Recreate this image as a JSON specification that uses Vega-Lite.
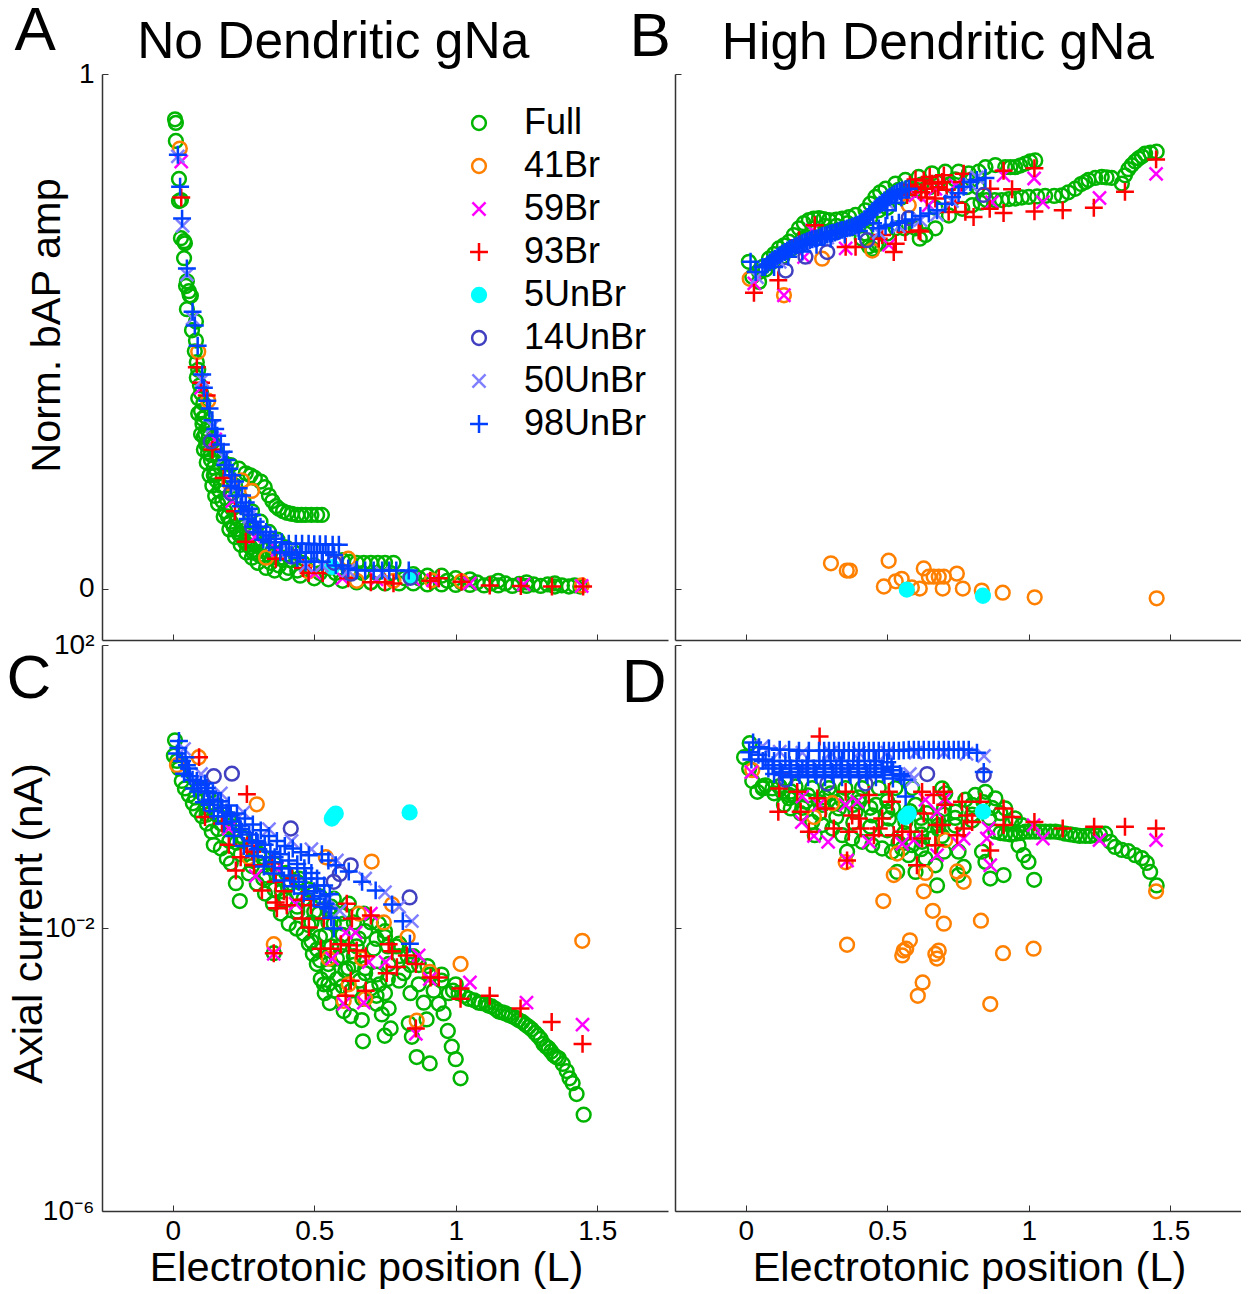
{"$schema":"https://vega.github.io/schema/vega-lite/v6.json","padding":{"left":6,"top":0,"right":0,"bottom":0},"background":"white","bounds":"flush","columns":2,"spacing":{"row":5,"column":7},
"datasets":{
"a":[
{"s":"Full","x":0.008,"y":0.912},{"s":"Full","x":0.011,"y":0.905},{"s":"Full","x":0.011,"y":0.87},{"s":"Full","x":0.022,"y":0.796},{"s":"Full","x":0.022,"y":0.753},{"s":"Full","x":0.029,"y":0.755},{"s":"Full","x":0.029,"y":0.681},{"s":"Full","x":0.04,"y":0.675},{"s":"Full","x":0.043,"y":0.671},{"s":"Full","x":0.04,"y":0.642},{"s":"Full","x":0.05,"y":0.597},{"s":"Full","x":0.047,"y":0.588},{"s":"Full","x":0.057,"y":0.578},{"s":"Full","x":0.06,"y":0.57},{"s":"Full","x":0.064,"y":0.569},{"s":"Full","x":0.05,"y":0.543},{"s":"Full","x":0.082,"y":0.519},{"s":"Full","x":0.068,"y":0.502},{"s":"Full","x":0.082,"y":0.482},{"s":"Full","x":0.078,"y":0.461},{"s":"Full","x":0.085,"y":0.44},{"s":"Full","x":0.09,"y":0.425},{"s":"Full","x":0.085,"y":0.41},{"s":"Full","x":0.096,"y":0.395},{"s":"Full","x":0.1,"y":0.38},{"s":"Full","x":0.09,"y":0.37},{"s":"Full","x":0.108,"y":0.36},{"s":"Full","x":0.1,"y":0.345},{"s":"Full","x":0.115,"y":0.335},{"s":"Full","x":0.105,"y":0.32},{"s":"Full","x":0.12,"y":0.31},{"s":"Full","x":0.11,"y":0.295},{"s":"Full","x":0.128,"y":0.295},{"s":"Full","x":0.118,"y":0.28},{"s":"Full","x":0.14,"y":0.285},{"s":"Full","x":0.125,"y":0.265},{"s":"Full","x":0.15,"y":0.27},{"s":"Full","x":0.135,"y":0.25},{"s":"Full","x":0.16,"y":0.255},{"s":"Full","x":0.145,"y":0.235},{"s":"Full","x":0.18,"y":0.245},{"s":"Full","x":0.205,"y":0.24},{"s":"Full","x":0.234,"y":0.233},{"s":"Full","x":0.258,"y":0.224},{"s":"Full","x":0.275,"y":0.22},{"s":"Full","x":0.29,"y":0.215},{"s":"Full","x":0.311,"y":0.208},{"s":"Full","x":0.325,"y":0.197},{"s":"Full","x":0.34,"y":0.181},{"s":"Full","x":0.352,"y":0.17},{"s":"Full","x":0.365,"y":0.16},{"s":"Full","x":0.375,"y":0.155},{"s":"Full","x":0.39,"y":0.15},{"s":"Full","x":0.405,"y":0.147},{"s":"Full","x":0.421,"y":0.145},{"s":"Full","x":0.44,"y":0.143},{"s":"Full","x":0.455,"y":0.143},{"s":"Full","x":0.47,"y":0.143},{"s":"Full","x":0.49,"y":0.143},{"s":"Full","x":0.51,"y":0.143},{"s":"Full","x":0.527,"y":0.143},
{"s":"Full","x":0.09,"y":0.34},{"s":"Full","x":0.1,"y":0.3},{"s":"Full","x":0.11,"y":0.27},{"s":"Full","x":0.12,"y":0.245},{"s":"Full","x":0.13,"y":0.22},{"s":"Full","x":0.14,"y":0.2},{"s":"Full","x":0.15,"y":0.18},{"s":"Full","x":0.16,"y":0.165},{"s":"Full","x":0.18,"y":0.14},{"s":"Full","x":0.2,"y":0.115},{"s":"Full","x":0.22,"y":0.1},{"s":"Full","x":0.24,"y":0.085},{"s":"Full","x":0.26,"y":0.07},{"s":"Full","x":0.28,"y":0.06},{"s":"Full","x":0.3,"y":0.05},{"s":"Full","x":0.33,"y":0.04},{"s":"Full","x":0.36,"y":0.035},{"s":"Full","x":0.4,"y":0.03},{"s":"Full","x":0.45,"y":0.025},{"s":"Full","x":0.5,"y":0.02},{"s":"Full","x":0.55,"y":0.018},{"s":"Full","x":0.6,"y":0.015},{"s":"Full","x":0.65,"y":0.012},{"s":"Full","x":0.7,"y":0.012},{"s":"Full","x":0.75,"y":0.01},{"s":"Full","x":0.8,"y":0.01},{"s":"Full","x":0.85,"y":0.01},{"s":"Full","x":0.9,"y":0.008},{"s":"Full","x":0.95,"y":0.008},{"s":"Full","x":1,"y":0.007},{"s":"Full","x":1.05,"y":0.007},{"s":"Full","x":1.1,"y":0.006},{"s":"Full","x":1.15,"y":0.006},{"s":"Full","x":1.2,"y":0.005},{"s":"Full","x":1.25,"y":0.005},{"s":"Full","x":1.3,"y":0.005},{"s":"Full","x":1.35,"y":0.004},{"s":"Full","x":1.4,"y":0.004},{"s":"Full","x":1.44,"y":0.004},
{"s":"Full","x":0.15,"y":0.22},{"s":"Full","x":0.17,"y":0.2},{"s":"Full","x":0.19,"y":0.175},{"s":"Full","x":0.21,"y":0.155},{"s":"Full","x":0.23,"y":0.135},{"s":"Full","x":0.25,"y":0.12},{"s":"Full","x":0.27,"y":0.105},{"s":"Full","x":0.29,"y":0.095},{"s":"Full","x":0.31,"y":0.085},{"s":"Full","x":0.33,"y":0.075},{"s":"Full","x":0.36,"y":0.065},{"s":"Full","x":0.39,"y":0.06},{"s":"Full","x":0.42,"y":0.055},{"s":"Full","x":0.46,"y":0.05},{"s":"Full","x":0.5,"y":0.045},{"s":"Full","x":0.55,"y":0.04},{"s":"Full","x":0.6,"y":0.055},{"s":"Full","x":0.65,"y":0.05},{"s":"Full","x":0.7,"y":0.05},{"s":"Full","x":0.75,"y":0.05},{"s":"Full","x":0.78,"y":0.05},{"s":"Full","x":0.85,"y":0.028},{"s":"Full","x":0.9,"y":0.025},{"s":"Full","x":0.95,"y":0.025},{"s":"Full","x":1,"y":0.02},{"s":"Full","x":1.05,"y":0.018},{"s":"Full","x":1.15,"y":0.015},{"s":"Full","x":1.25,"y":0.012},{"s":"Full","x":1.35,"y":0.01},
{"s":"Full","x":0.105,"y":0.33},{"s":"Full","x":0.115,"y":0.3},{"s":"Full","x":0.125,"y":0.28},{"s":"Full","x":0.135,"y":0.26},{"s":"Full","x":0.145,"y":0.22},{"s":"Full","x":0.155,"y":0.21},{"s":"Full","x":0.165,"y":0.19},{"s":"Full","x":0.175,"y":0.17},{"s":"Full","x":0.185,"y":0.15},{"s":"Full","x":0.195,"y":0.14},{"s":"Full","x":0.205,"y":0.13},{"s":"Full","x":0.215,"y":0.12},{"s":"Full","x":0.225,"y":0.115},{"s":"Full","x":0.235,"y":0.105},{"s":"Full","x":0.245,"y":0.1},{"s":"Full","x":0.255,"y":0.09},{"s":"Full","x":0.265,"y":0.085},{"s":"Full","x":0.275,"y":0.08},{"s":"Full","x":0.285,"y":0.07},{"s":"Full","x":0.295,"y":0.07},{"s":"Full","x":0.305,"y":0.065},{"s":"Full","x":0.32,"y":0.06},{"s":"Full","x":0.345,"y":0.05},{"s":"Full","x":0.375,"y":0.045},{"s":"Full","x":0.41,"y":0.04},{"s":"Full","x":0.44,"y":0.035},{"s":"Full","x":0.48,"y":0.035},{"s":"Full","x":0.52,"y":0.03},{"s":"Full","x":0.575,"y":0.03},{"s":"Full","x":0.625,"y":0.03},{"s":"Full","x":0.67,"y":0.03},{"s":"Full","x":0.72,"y":0.03},{"s":"Full","x":0.77,"y":0.03},{"s":"Full","x":0.82,"y":0.02},{"s":"Full","x":0.87,"y":0.02},{"s":"Full","x":0.92,"y":0.015},{"s":"Full","x":0.97,"y":0.015},{"s":"Full","x":1.02,"y":0.012},{"s":"Full","x":1.075,"y":0.012},{"s":"Full","x":1.125,"y":0.01},{"s":"Full","x":1.175,"y":0.01},{"s":"Full","x":1.225,"y":0.009},{"s":"Full","x":1.275,"y":0.008},{"s":"Full","x":1.325,"y":0.008},{"s":"Full","x":1.375,"y":0.006},{"s":"Full","x":1.42,"y":0.006},{"s":"Full","x":0.19,"y":0.22},{"s":"Full","x":0.22,"y":0.2},{"s":"Full","x":0.25,"y":0.17},{"s":"Full","x":0.28,"y":0.15},{"s":"Full","x":0.31,"y":0.13},{"s":"Full","x":0.34,"y":0.11},{"s":"Full","x":0.37,"y":0.095},{"s":"Full","x":0.4,"y":0.08},{"s":"Full","x":0.43,"y":0.07},{"s":"Full","x":0.625,"y":0.052},{"s":"Full","x":0.675,"y":0.05},{"s":"Full","x":0.725,"y":0.05},
{"s":"41Br","x":0.025,"y":0.855},{"s":"41Br","x":0.09,"y":0.46},{"s":"41Br","x":0.125,"y":0.365},{"s":"41Br","x":0.2,"y":0.205},{"s":"41Br","x":0.245,"y":0.21},{"s":"41Br","x":0.28,"y":0.19},{"s":"41Br","x":0.33,"y":0.06},{"s":"41Br","x":0.48,"y":0.033},{"s":"41Br","x":0.62,"y":0.058},{"s":"41Br","x":0.65,"y":0.015},{"s":"41Br","x":0.78,"y":0.015},{"s":"41Br","x":0.915,"y":0.016},{"s":"41Br","x":1.02,"y":0.014},{"s":"41Br","x":1.445,"y":0.006},
{"s":"59Br","x":0.03,"y":0.83},{"s":"59Br","x":0.1,"y":0.39},{"s":"59Br","x":0.15,"y":0.29},{"s":"59Br","x":0.21,"y":0.17},{"s":"59Br","x":0.29,"y":0.1},{"s":"59Br","x":0.37,"y":0.075},{"s":"59Br","x":0.5,"y":0.03},{"s":"59Br","x":0.6,"y":0.02},{"s":"59Br","x":0.72,"y":0.018},{"s":"59Br","x":0.85,"y":0.018},{"s":"59Br","x":0.92,"y":0.016},{"s":"59Br","x":1.05,"y":0.01},{"s":"59Br","x":1.24,"y":0.008},{"s":"59Br","x":1.445,"y":0.005},
{"s":"93Br","x":0.03,"y":0.76},{"s":"93Br","x":0.085,"y":0.43},{"s":"93Br","x":0.1,"y":0.4},{"s":"93Br","x":0.12,"y":0.375},{"s":"93Br","x":0.14,"y":0.27},{"s":"93Br","x":0.18,"y":0.215},{"s":"93Br","x":0.22,"y":0.15},{"s":"93Br","x":0.258,"y":0.091},{"s":"93Br","x":0.364,"y":0.058},{"s":"93Br","x":0.46,"y":0.04},{"s":"93Br","x":0.48,"y":0.03},{"s":"93Br","x":0.53,"y":0.03},{"s":"93Br","x":0.62,"y":0.02},{"s":"93Br","x":0.7,"y":0.012},{"s":"93Br","x":0.75,"y":0.012},{"s":"93Br","x":0.78,"y":0.01},{"s":"93Br","x":0.91,"y":0.015},{"s":"93Br","x":0.94,"y":0.02},{"s":"93Br","x":1.02,"y":0.013},{"s":"93Br","x":1.12,"y":0.006},{"s":"93Br","x":1.23,"y":0.005},{"s":"93Br","x":1.34,"y":0.004},{"s":"93Br","x":1.45,"y":0.004},
{"s":"5UnBr","x":0.563,"y":0.042},{"s":"5UnBr","x":0.84,"y":0.023},
{"s":"14UnBr","x":0.134,"y":0.286},{"s":"14UnBr","x":0.205,"y":0.185},{"s":"14UnBr","x":0.28,"y":0.12},{"s":"14UnBr","x":0.42,"y":0.062},{"s":"14UnBr","x":0.57,"y":0.05},{"s":"14UnBr","x":0.63,"y":0.029},{"s":"14UnBr","x":0.84,"y":0.021},
{"s":"50UnBr","x":0.018,"y":0.84},{"s":"50UnBr","x":0.035,"y":0.705},{"s":"50UnBr","x":0.05,"y":0.61},{"s":"50UnBr","x":0.07,"y":0.525},{"s":"50UnBr","x":0.104,"y":0.405},{"s":"50UnBr","x":0.14,"y":0.315},{"s":"50UnBr","x":0.18,"y":0.255},{"s":"50UnBr","x":0.22,"y":0.195},{"s":"50UnBr","x":0.27,"y":0.14},{"s":"50UnBr","x":0.33,"y":0.1},{"s":"50UnBr","x":0.41,"y":0.075},{"s":"50UnBr","x":0.47,"y":0.045},{"s":"50UnBr","x":0.527,"y":0.045},{"s":"50UnBr","x":0.62,"y":0.035},{"s":"50UnBr","x":0.74,"y":0.03},
{"s":"98UnBr","x":0.018,"y":0.843},{"s":"98UnBr","x":0.026,"y":0.781},{"s":"98UnBr","x":0.033,"y":0.719},{"s":"98UnBr","x":0.05,"y":0.622},{"s":"98UnBr","x":0.07,"y":0.538},{"s":"98UnBr","x":0.078,"y":0.511},{"s":"98UnBr","x":0.088,"y":0.472},{"s":"98UnBr","x":0.104,"y":0.416},{"s":"98UnBr","x":0.122,"y":0.365},{"s":"98UnBr","x":0.13,"y":0.35},{"s":"98UnBr","x":0.14,"y":0.327},{"s":"98UnBr","x":0.157,"y":0.297},{"s":"98UnBr","x":0.17,"y":0.28},{"s":"98UnBr","x":0.18,"y":0.266},{"s":"98UnBr","x":0.19,"y":0.25},{"s":"98UnBr","x":0.2,"y":0.233},{"s":"98UnBr","x":0.21,"y":0.22},{"s":"98UnBr","x":0.22,"y":0.208},{"s":"98UnBr","x":0.233,"y":0.195},{"s":"98UnBr","x":0.245,"y":0.181},{"s":"98UnBr","x":0.258,"y":0.167},{"s":"98UnBr","x":0.27,"y":0.155},{"s":"98UnBr","x":0.28,"y":0.143},{"s":"98UnBr","x":0.293,"y":0.13},{"s":"98UnBr","x":0.31,"y":0.12},{"s":"98UnBr","x":0.33,"y":0.11},{"s":"98UnBr","x":0.345,"y":0.103},{"s":"98UnBr","x":0.364,"y":0.097},{"s":"98UnBr","x":0.385,"y":0.09},{"s":"98UnBr","x":0.41,"y":0.087},{"s":"98UnBr","x":0.435,"y":0.087},{"s":"98UnBr","x":0.457,"y":0.087},{"s":"98UnBr","x":0.48,"y":0.087},{"s":"98UnBr","x":0.5,"y":0.086},{"s":"98UnBr","x":0.52,"y":0.086},{"s":"98UnBr","x":0.54,"y":0.086},{"s":"98UnBr","x":0.565,"y":0.085},{"s":"98UnBr","x":0.587,"y":0.085},{"s":"98UnBr","x":0.44,"y":0.06},{"s":"98UnBr","x":0.47,"y":0.052},{"s":"98UnBr","x":0.5,"y":0.052},{"s":"98UnBr","x":0.527,"y":0.052},{"s":"98UnBr","x":0.576,"y":0.045},{"s":"98UnBr","x":0.62,"y":0.039},{"s":"98UnBr","x":0.65,"y":0.036},{"s":"98UnBr","x":0.68,"y":0.035},{"s":"98UnBr","x":0.71,"y":0.035},{"s":"98UnBr","x":0.74,"y":0.035},{"s":"98UnBr","x":0.765,"y":0.035},{"s":"98UnBr","x":0.79,"y":0.035},{"s":"98UnBr","x":0.834,"y":0.035},
{"s":"98UnBr","x":0.11,"y":0.39},{"s":"98UnBr","x":0.15,"y":0.31},{"s":"98UnBr","x":0.185,"y":0.24},{"s":"98UnBr","x":0.205,"y":0.2},{"s":"98UnBr","x":0.225,"y":0.18},{"s":"98UnBr","x":0.24,"y":0.16},{"s":"98UnBr","x":0.25,"y":0.15},{"s":"98UnBr","x":0.265,"y":0.135},{"s":"98UnBr","x":0.285,"y":0.12},{"s":"98UnBr","x":0.3,"y":0.11},{"s":"98UnBr","x":0.32,"y":0.095},{"s":"98UnBr","x":0.34,"y":0.09},{"s":"98UnBr","x":0.36,"y":0.08},{"s":"98UnBr","x":0.38,"y":0.07},{"s":"98UnBr","x":0.4,"y":0.07},{"s":"98UnBr","x":0.42,"y":0.065},{"s":"98UnBr","x":0.45,"y":0.07},{"s":"98UnBr","x":0.47,"y":0.07},{"s":"98UnBr","x":0.49,"y":0.07},{"s":"98UnBr","x":0.51,"y":0.07},{"s":"98UnBr","x":0.53,"y":0.07},{"s":"98UnBr","x":0.55,"y":0.07},{"s":"98UnBr","x":0.57,"y":0.065},{"s":"98UnBr","x":0.6,"y":0.045}
],
"b":[
{"s":"Full","x":0.011,"y":0.635},{"s":"Full","x":0.023,"y":0.606},{"s":"Full","x":0.047,"y":0.596},{"s":"Full","x":0.06,"y":0.625},{"s":"Full","x":0.082,"y":0.641},{"s":"Full","x":0.1,"y":0.65},{"s":"Full","x":0.117,"y":0.661},{"s":"Full","x":0.135,"y":0.667},{"s":"Full","x":0.153,"y":0.674},{"s":"Full","x":0.17,"y":0.687},{"s":"Full","x":0.188,"y":0.7},{"s":"Full","x":0.205,"y":0.71},{"s":"Full","x":0.223,"y":0.716},{"s":"Full","x":0.24,"y":0.719},{"s":"Full","x":0.259,"y":0.72},{"s":"Full","x":0.275,"y":0.718},{"s":"Full","x":0.294,"y":0.716},{"s":"Full","x":0.32,"y":0.717},{"s":"Full","x":0.341,"y":0.719},{"s":"Full","x":0.365,"y":0.722},{"s":"Full","x":0.388,"y":0.726},{"s":"Full","x":0.423,"y":0.735},{"s":"Full","x":0.44,"y":0.748},{"s":"Full","x":0.458,"y":0.761},{"s":"Full","x":0.475,"y":0.77},{"s":"Full","x":0.494,"y":0.777},{"s":"Full","x":0.529,"y":0.787},{"s":"Full","x":0.564,"y":0.794},{"s":"Full","x":0.611,"y":0.8},{"s":"Full","x":0.658,"y":0.807},{"s":"Full","x":0.705,"y":0.81},{"s":"Full","x":0.752,"y":0.81},{"s":"Full","x":0.788,"y":0.807},{"s":"Full","x":0.823,"y":0.81},{"s":"Full","x":0.847,"y":0.819},{"s":"Full","x":0.882,"y":0.823},{"s":"Full","x":0.917,"y":0.819},{"s":"Full","x":0.935,"y":0.819},{"s":"Full","x":0.952,"y":0.819},{"s":"Full","x":0.97,"y":0.822},{"s":"Full","x":0.988,"y":0.826},{"s":"Full","x":1.005,"y":0.83},{"s":"Full","x":1.023,"y":0.832},
{"s":"Full","x":0.85,"y":0.755},{"s":"Full","x":0.88,"y":0.755},{"s":"Full","x":0.905,"y":0.755},{"s":"Full","x":0.93,"y":0.757},{"s":"Full","x":0.952,"y":0.758},{"s":"Full","x":0.975,"y":0.76},{"s":"Full","x":1,"y":0.761},{"s":"Full","x":1.03,"y":0.762},{"s":"Full","x":1.058,"y":0.763},{"s":"Full","x":1.09,"y":0.763},{"s":"Full","x":1.117,"y":0.764},{"s":"Full","x":1.14,"y":0.77},{"s":"Full","x":1.164,"y":0.777},{"s":"Full","x":1.185,"y":0.786},{"s":"Full","x":1.2,"y":0.79},{"s":"Full","x":1.211,"y":0.794},{"s":"Full","x":1.235,"y":0.798},{"s":"Full","x":1.258,"y":0.8},{"s":"Full","x":1.275,"y":0.799},{"s":"Full","x":1.293,"y":0.798},{"s":"Full","x":1.329,"y":0.787},{"s":"Full","x":1.34,"y":0.803},{"s":"Full","x":1.352,"y":0.815},{"s":"Full","x":1.364,"y":0.823},{"s":"Full","x":1.376,"y":0.83},{"s":"Full","x":1.388,"y":0.836},{"s":"Full","x":1.4,"y":0.84},{"s":"Full","x":1.411,"y":0.845},{"s":"Full","x":1.43,"y":0.847},{"s":"Full","x":1.452,"y":0.849},
{"s":"Full","x":0.047,"y":0.615},{"s":"Full","x":0.094,"y":0.635},{"s":"Full","x":0.14,"y":0.654},{"s":"Full","x":0.188,"y":0.667},{"s":"Full","x":0.235,"y":0.683},{"s":"Full","x":0.282,"y":0.693},{"s":"Full","x":0.329,"y":0.696},{"s":"Full","x":0.376,"y":0.7},{"s":"Full","x":0.423,"y":0.69},{"s":"Full","x":0.447,"y":0.66},{"s":"Full","x":0.47,"y":0.67},{"s":"Full","x":0.5,"y":0.69},{"s":"Full","x":0.53,"y":0.7},{"s":"Full","x":0.56,"y":0.7},{"s":"Full","x":0.6,"y":0.7},{"s":"Full","x":0.615,"y":0.68},{"s":"Full","x":0.635,"y":0.687},{"s":"Full","x":0.67,"y":0.7},{"s":"Full","x":0.67,"y":0.74},{"s":"Full","x":0.718,"y":0.725},{"s":"Full","x":0.765,"y":0.738},{"s":"Full","x":0.8,"y":0.745},{"s":"Full","x":0.83,"y":0.75},{"s":"Full","x":0.5,"y":0.74},{"s":"Full","x":0.55,"y":0.76},{"s":"Full","x":0.6,"y":0.775},{"s":"Full","x":0.65,"y":0.78},{"s":"Full","x":0.72,"y":0.785},{"s":"Full","x":0.78,"y":0.78},
{"s":"Full","x":0.07,"y":0.62},{"s":"Full","x":0.13,"y":0.645},{"s":"Full","x":0.16,"y":0.66},{"s":"Full","x":0.2,"y":0.68},{"s":"Full","x":0.24,"y":0.7},{"s":"Full","x":0.28,"y":0.705},{"s":"Full","x":0.32,"y":0.705},{"s":"Full","x":0.36,"y":0.71},{"s":"Full","x":0.4,"y":0.705},{"s":"Full","x":0.44,"y":0.72},{"s":"Full","x":0.47,"y":0.735},{"s":"Full","x":0.51,"y":0.76},{"s":"Full","x":0.54,"y":0.775},{"s":"Full","x":0.58,"y":0.78},{"s":"Full","x":0.62,"y":0.785},{"s":"Full","x":0.68,"y":0.79},{"s":"Full","x":0.74,"y":0.795},{"s":"Full","x":0.8,"y":0.795},{"s":"Full","x":0.82,"y":0.78},{"s":"Full","x":0.41,"y":0.68},{"s":"Full","x":0.435,"y":0.665},{"s":"Full","x":0.46,"y":0.668},
{"s":"41Br","x":0.014,"y":0.602},{"s":"41Br","x":0.135,"y":0.57},{"s":"41Br","x":0.27,"y":0.641},{"s":"41Br","x":0.447,"y":0.657},{"s":"41Br","x":0.576,"y":0.745},{"s":"41Br","x":0.301,"y":0.049},{"s":"41Br","x":0.357,"y":0.035},{"s":"41Br","x":0.368,"y":0.035},{"s":"41Br","x":0.505,"y":0.054},{"s":"41Br","x":0.488,"y":0.004},{"s":"41Br","x":0.53,"y":0.014},{"s":"41Br","x":0.551,"y":0.019},{"s":"41Br","x":0.587,"y":0.002},{"s":"41Br","x":0.615,"y":0},{"s":"41Br","x":0.629,"y":0.039},{"s":"41Br","x":0.647,"y":0.023},{"s":"41Br","x":0.664,"y":0.023},{"s":"41Br","x":0.682,"y":0.023},{"s":"41Br","x":0.7,"y":0.023},{"s":"41Br","x":0.746,"y":0.029},{"s":"41Br","x":0.696,"y":0},{"s":"41Br","x":0.767,"y":0},{"s":"41Br","x":0.834,"y":-0.004},{"s":"41Br","x":0.908,"y":-0.008},{"s":"41Br","x":1.021,"y":-0.017},{"s":"41Br","x":1.452,"y":-0.019},
{"s":"59Br","x":0.03,"y":0.593},{"s":"59Br","x":0.135,"y":0.57},{"s":"59Br","x":0.206,"y":0.644},{"s":"59Br","x":0.235,"y":0.696},{"s":"59Br","x":0.353,"y":0.661},{"s":"59Br","x":0.506,"y":0.668},{"s":"59Br","x":0.6,"y":0.764},{"s":"59Br","x":0.647,"y":0.745},{"s":"59Br","x":0.67,"y":0.777},{"s":"59Br","x":0.741,"y":0.784},{"s":"59Br","x":0.87,"y":0.751},{"s":"59Br","x":0.911,"y":0.803},{"s":"59Br","x":1.019,"y":0.797},{"s":"59Br","x":1.05,"y":0.751},{"s":"59Br","x":1.25,"y":0.759},{"s":"59Br","x":1.45,"y":0.806},
{"s":"93Br","x":0.029,"y":0.575},{"s":"93Br","x":0.115,"y":0.599},{"s":"93Br","x":0.188,"y":0.677},{"s":"93Br","x":0.244,"y":0.706},{"s":"93Br","x":0.353,"y":0.664},{"s":"93Br","x":0.388,"y":0.664},{"s":"93Br","x":0.482,"y":0.687},{"s":"93Br","x":0.523,"y":0.654},{"s":"93Br","x":0.564,"y":0.693},{"s":"93Br","x":0.611,"y":0.696},{"s":"93Br","x":0.617,"y":0.694},{"s":"93Br","x":0.717,"y":0.732},{"s":"93Br","x":0.776,"y":0.732},{"s":"93Br","x":0.805,"y":0.722},{"s":"93Br","x":0.862,"y":0.738},{"s":"93Br","x":0.911,"y":0.73},{"s":"93Br","x":1.02,"y":0.733},{"s":"93Br","x":1.12,"y":0.735},{"s":"93Br","x":1.23,"y":0.74},{"s":"93Br","x":1.34,"y":0.771},{"s":"93Br","x":1.45,"y":0.834},{"s":"93Br","x":0.941,"y":0.776},{"s":"93Br","x":0.911,"y":0.812},{"s":"93Br","x":1.02,"y":0.817},{"s":"93Br","x":0.864,"y":0.777},{"s":"93Br","x":0.77,"y":0.806},{"s":"93Br","x":0.7,"y":0.803},{"s":"93Br","x":0.629,"y":0.793},{"s":"93Br","x":0.635,"y":0.777},{"s":"93Br","x":0.67,"y":0.758},{"s":"93Br","x":0.694,"y":0.79},{"s":"93Br","x":0.659,"y":0.787},{"s":"93Br","x":0.6,"y":0.78},{"s":"93Br","x":0.764,"y":0.79},{"s":"93Br","x":0.58,"y":0.785},{"s":"93Br","x":0.6,"y":0.795},{"s":"93Br","x":0.62,"y":0.77},{"s":"93Br","x":0.65,"y":0.8},{"s":"93Br","x":0.68,"y":0.78},{"s":"93Br","x":0.71,"y":0.775},{"s":"93Br","x":0.55,"y":0.77},{"s":"93Br","x":0.57,"y":0.765},{"s":"93Br","x":0.64,"y":0.76},{"s":"93Br","x":0.74,"y":0.75},{"s":"93Br","x":0.47,"y":0.68},{"s":"93Br","x":0.53,"y":0.67},
{"s":"5UnBr","x":0.569,"y":-0.002},{"s":"5UnBr","x":0.838,"y":-0.014},
{"s":"14UnBr","x":0.141,"y":0.618},{"s":"14UnBr","x":0.211,"y":0.645},{"s":"14UnBr","x":0.288,"y":0.654},{"s":"14UnBr","x":0.429,"y":0.677},{"s":"14UnBr","x":0.576,"y":0.72},{"s":"14UnBr","x":0.84,"y":0.765},
{"s":"50UnBr","x":0.04,"y":0.605},{"s":"50UnBr","x":0.12,"y":0.635},{"s":"50UnBr","x":0.2,"y":0.665},{"s":"50UnBr","x":0.288,"y":0.682},{"s":"50UnBr","x":0.376,"y":0.697},{"s":"50UnBr","x":0.44,"y":0.72},{"s":"50UnBr","x":0.5,"y":0.75},{"s":"50UnBr","x":0.47,"y":0.692},{"s":"50UnBr","x":0.541,"y":0.704},{"s":"50UnBr","x":0.617,"y":0.716},{"s":"50UnBr","x":0.676,"y":0.727},{"s":"50UnBr","x":0.729,"y":0.753},{"s":"50UnBr","x":0.794,"y":0.785},{"s":"50UnBr","x":0.817,"y":0.799},
{"s":"98UnBr","x":0.017,"y":0.635},{"s":"98UnBr","x":0.035,"y":0.615},{"s":"98UnBr","x":0.059,"y":0.625},{"s":"98UnBr","x":0.076,"y":0.63},{"s":"98UnBr","x":0.094,"y":0.638},{"s":"98UnBr","x":0.112,"y":0.645},{"s":"98UnBr","x":0.129,"y":0.651},{"s":"98UnBr","x":0.147,"y":0.657},{"s":"98UnBr","x":0.164,"y":0.662},{"s":"98UnBr","x":0.182,"y":0.667},{"s":"98UnBr","x":0.2,"y":0.671},{"s":"98UnBr","x":0.217,"y":0.675},{"s":"98UnBr","x":0.235,"y":0.679},{"s":"98UnBr","x":0.253,"y":0.681},{"s":"98UnBr","x":0.27,"y":0.685},{"s":"98UnBr","x":0.288,"y":0.688},{"s":"98UnBr","x":0.306,"y":0.691},{"s":"98UnBr","x":0.323,"y":0.694},{"s":"98UnBr","x":0.341,"y":0.697},{"s":"98UnBr","x":0.358,"y":0.7},{"s":"98UnBr","x":0.376,"y":0.703},{"s":"98UnBr","x":0.394,"y":0.707},{"s":"98UnBr","x":0.411,"y":0.713},{"s":"98UnBr","x":0.429,"y":0.722},{"s":"98UnBr","x":0.447,"y":0.733},{"s":"98UnBr","x":0.464,"y":0.742},{"s":"98UnBr","x":0.482,"y":0.75},{"s":"98UnBr","x":0.5,"y":0.758},{"s":"98UnBr","x":0.517,"y":0.764},{"s":"98UnBr","x":0.535,"y":0.77},{"s":"98UnBr","x":0.553,"y":0.774},{"s":"98UnBr","x":0.576,"y":0.777},{"s":"98UnBr","x":0.47,"y":0.7},{"s":"98UnBr","x":0.494,"y":0.705},{"s":"98UnBr","x":0.517,"y":0.707},{"s":"98UnBr","x":0.541,"y":0.711},{"s":"98UnBr","x":0.564,"y":0.714},{"s":"98UnBr","x":0.588,"y":0.717},{"s":"98UnBr","x":0.617,"y":0.724},{"s":"98UnBr","x":0.647,"y":0.729},{"s":"98UnBr","x":0.676,"y":0.735},{"s":"98UnBr","x":0.705,"y":0.748},{"s":"98UnBr","x":0.729,"y":0.761},{"s":"98UnBr","x":0.752,"y":0.768},{"s":"98UnBr","x":0.77,"y":0.781},{"s":"98UnBr","x":0.794,"y":0.79},{"s":"98UnBr","x":0.817,"y":0.794},{"s":"98UnBr","x":0.847,"y":0.798},
{"s":"98UnBr","x":0.068,"y":0.625},{"s":"98UnBr","x":0.085,"y":0.634},{"s":"98UnBr","x":0.103,"y":0.641},{"s":"98UnBr","x":0.12,"y":0.648},{"s":"98UnBr","x":0.138,"y":0.654},{"s":"98UnBr","x":0.155,"y":0.66},{"s":"98UnBr","x":0.173,"y":0.665},{"s":"98UnBr","x":0.19,"y":0.669},{"s":"98UnBr","x":0.208,"y":0.673},{"s":"98UnBr","x":0.226,"y":0.677},{"s":"98UnBr","x":0.244,"y":0.68},{"s":"98UnBr","x":0.262,"y":0.683},{"s":"98UnBr","x":0.279,"y":0.686},{"s":"98UnBr","x":0.297,"y":0.69},{"s":"98UnBr","x":0.315,"y":0.692},{"s":"98UnBr","x":0.332,"y":0.696},{"s":"98UnBr","x":0.35,"y":0.698},{"s":"98UnBr","x":0.367,"y":0.701},{"s":"98UnBr","x":0.385,"y":0.705},{"s":"98UnBr","x":0.403,"y":0.71},{"s":"98UnBr","x":0.42,"y":0.717},{"s":"98UnBr","x":0.438,"y":0.727},{"s":"98UnBr","x":0.456,"y":0.737},{"s":"98UnBr","x":0.473,"y":0.746},{"s":"98UnBr","x":0.49,"y":0.754},{"s":"98UnBr","x":0.508,"y":0.761},{"s":"98UnBr","x":0.526,"y":0.767},{"s":"98UnBr","x":0.544,"y":0.772},{"s":"98UnBr","x":0.565,"y":0.776},{"s":"98UnBr","x":0.1,"y":0.625},{"s":"98UnBr","x":0.15,"y":0.645},{"s":"98UnBr","x":0.2,"y":0.655},{"s":"98UnBr","x":0.25,"y":0.668},{"s":"98UnBr","x":0.3,"y":0.68},{"s":"98UnBr","x":0.35,"y":0.688},{"s":"98UnBr","x":0.4,"y":0.695},{"s":"98UnBr","x":0.45,"y":0.71},{"s":"98UnBr","x":0.5,"y":0.735},{"s":"98UnBr","x":0.53,"y":0.75},{"s":"98UnBr","x":0.55,"y":0.76}
],
"c":[
{"s":"Full","x":0.008,"y":4.5},{"s":"Full","x":0.004,"y":2.73},{"s":"Full","x":0.015,"y":2.3},{"s":"Full","x":0.022,"y":1.79},{"s":"Full","x":0.032,"y":1.2},{"s":"Full","x":0.043,"y":0.94},{"s":"Full","x":0.057,"y":0.76},{"s":"Full","x":0.071,"y":0.58},{"s":"Full","x":0.085,"y":0.46},{"s":"Full","x":0.103,"y":0.38},{"s":"Full","x":0.121,"y":0.3},{"s":"Full","x":0.138,"y":0.23},{"s":"Full","x":0.128,"y":0.68},{"s":"Full","x":0.145,"y":0.15},{"s":"Full","x":0.17,"y":0.133},{"s":"Full","x":0.191,"y":0.096},{"s":"Full","x":0.205,"y":0.082},{"s":"Full","x":0.223,"y":0.043},{"s":"Full","x":0.237,"y":0.024},{"s":"Full","x":0.269,"y":0.059},{"s":"Full","x":0.297,"y":0.0425},{"s":"Full","x":0.326,"y":0.0307},{"s":"Full","x":0.354,"y":0.0221},{"s":"Full","x":0.382,"y":0.016},{"s":"Full","x":0.41,"y":0.0115},{"s":"Full","x":0.438,"y":0.0098},{"s":"Full","x":0.463,"y":0.0083},{"s":"Full","x":0.481,"y":0.006},{"s":"Full","x":0.495,"y":0.0043},{"s":"Full","x":0.509,"y":0.0031},{"s":"Full","x":0.523,"y":0.0019},{"s":"Full","x":0.55,"y":0.0016},{"s":"Full","x":0.537,"y":0.0012},
{"s":"Full","x":0.093,"y":0.94},{"s":"Full","x":0.145,"y":0.58},{"s":"Full","x":0.198,"y":0.353},{"s":"Full","x":0.251,"y":0.184},{"s":"Full","x":0.304,"y":0.113},{"s":"Full","x":0.357,"y":0.069},{"s":"Full","x":0.41,"y":0.0425},{"s":"Full","x":0.463,"y":0.026},{"s":"Full","x":0.516,"y":0.016},{"s":"Full","x":0.569,"y":0.0115},{"s":"Full","x":0.17,"y":0.3},{"s":"Full","x":0.225,"y":0.16},{"s":"Full","x":0.28,"y":0.09},{"s":"Full","x":0.33,"y":0.055},{"s":"Full","x":0.385,"y":0.033},{"s":"Full","x":0.44,"y":0.02},{"s":"Full","x":0.49,"y":0.012},{"s":"Full","x":0.54,"y":0.008},{"s":"Full","x":0.59,"y":0.0055},{"s":"Full","x":0.64,"y":0.004},
{"s":"Full","x":0.569,"y":0.026},{"s":"Full","x":0.622,"y":0.0221},{"s":"Full","x":0.675,"y":0.016},{"s":"Full","x":0.728,"y":0.0115},{"s":"Full","x":0.446,"y":0.05},{"s":"Full","x":0.498,"y":0.0307},{"s":"Full","x":0.551,"y":0.017},{"s":"Full","x":0.604,"y":0.0115},{"s":"Full","x":0.657,"y":0.0071},{"s":"Full","x":0.71,"y":0.0051},{"s":"Full","x":0.763,"y":0.0031},{"s":"Full","x":0.816,"y":0.0023},{"s":"Full","x":0.869,"y":0.0016},{"s":"Full","x":0.922,"y":0.0013},{"s":"Full","x":0.975,"y":0.0012},{"s":"Full","x":1.01,"y":0.0012},{"s":"Full","x":1.046,"y":0.001},{"s":"Full","x":1.081,"y":0.00088},{"s":"Full","x":1.106,"y":0.00085},{"s":"Full","x":1.127,"y":0.00078},{"s":"Full","x":1.152,"y":0.00066},{"s":"Full","x":1.176,"y":0.00062},{"s":"Full","x":1.198,"y":0.00057},{"s":"Full","x":1.222,"y":0.0005},{"s":"Full","x":1.247,"y":0.00043},{"s":"Full","x":1.268,"y":0.00037},{"s":"Full","x":1.29,"y":0.0003},{"s":"Full","x":1.31,"y":0.00023},{"s":"Full","x":1.328,"y":0.0002},{"s":"Full","x":1.346,"y":0.00016},{"s":"Full","x":1.364,"y":0.000144},{"s":"Full","x":1.378,"y":0.00012},{"s":"Full","x":1.392,"y":0.000095},{"s":"Full","x":1.402,"y":0.000075},{"s":"Full","x":1.413,"y":0.000064},{"s":"Full","x":1.427,"y":0.000045},{"s":"Full","x":1.452,"y":0.000023},
{"s":"Full","x":0.75,"y":0.0075},{"s":"Full","x":0.79,"y":0.0055},{"s":"Full","x":0.83,"y":0.004},{"s":"Full","x":0.87,"y":0.003},{"s":"Full","x":0.91,"y":0.0022},{"s":"Full","x":0.95,"y":0.0018},{"s":"Full","x":0.8,"y":0.0018},{"s":"Full","x":0.84,"y":0.0012},{"s":"Full","x":0.58,"y":0.0037},{"s":"Full","x":0.62,"y":0.0027},{"s":"Full","x":0.68,"y":0.0023},{"s":"Full","x":0.73,"y":0.0016},{"s":"Full","x":0.55,"y":0.0031},{"s":"Full","x":0.58,"y":0.0019},{"s":"Full","x":0.63,"y":0.0013},{"s":"Full","x":0.67,"y":0.001},{"s":"Full","x":0.72,"y":0.00085},{"s":"Full","x":0.75,"y":0.0012},
{"s":"Full","x":0.534,"y":0.0016},{"s":"Full","x":0.555,"y":0.00087},{"s":"Full","x":0.604,"y":0.00067},{"s":"Full","x":0.629,"y":0.00057},{"s":"Full","x":0.668,"y":0.0005},{"s":"Full","x":0.739,"y":0.0006},{"s":"Full","x":0.763,"y":0.00073},{"s":"Full","x":0.77,"y":0.00038},{"s":"Full","x":0.749,"y":0.0003},{"s":"Full","x":0.672,"y":0.00025},{"s":"Full","x":0.862,"y":0.00015},{"s":"Full","x":0.908,"y":0.000122},{"s":"Full","x":0.845,"y":0.00029},{"s":"Full","x":0.834,"y":0.00045},{"s":"Full","x":0.897,"y":0.00051},{"s":"Full","x":0.957,"y":0.00062},{"s":"Full","x":0.887,"y":0.00088},{"s":"Full","x":0.94,"y":0.00085},{"s":"Full","x":0.972,"y":0.00035},{"s":"Full","x":0.986,"y":0.00021},{"s":"Full","x":1,"y":0.00014},{"s":"Full","x":1.017,"y":0.000075},{"s":"Full","x":0.357,"y":0.0044},
{"s":"Full","x":0.08,"y":0.7},{"s":"Full","x":0.12,"y":0.5},{"s":"Full","x":0.16,"y":0.4},{"s":"Full","x":0.2,"y":0.28},{"s":"Full","x":0.24,"y":0.2},{"s":"Full","x":0.28,"y":0.14},{"s":"Full","x":0.32,"y":0.1},{"s":"Full","x":0.36,"y":0.08},{"s":"Full","x":0.4,"y":0.06},{"s":"Full","x":0.44,"y":0.045},{"s":"Full","x":0.48,"y":0.035},{"s":"Full","x":0.52,"y":0.028},{"s":"Full","x":0.56,"y":0.02},{"s":"Full","x":0.6,"y":0.016},{"s":"Full","x":0.64,"y":0.012},{"s":"Full","x":0.68,"y":0.009},{"s":"Full","x":0.72,"y":0.007},{"s":"Full","x":0.76,"y":0.0055},{"s":"Full","x":0.8,"y":0.004},{"s":"Full","x":0.84,"y":0.003},{"s":"Full","x":0.12,"y":0.4},{"s":"Full","x":0.16,"y":0.25},{"s":"Full","x":0.2,"y":0.17},{"s":"Full","x":0.24,"y":0.11},{"s":"Full","x":0.28,"y":0.075},{"s":"Full","x":0.32,"y":0.05},{"s":"Full","x":0.36,"y":0.035},{"s":"Full","x":0.4,"y":0.025},{"s":"Full","x":0.44,"y":0.017},{"s":"Full","x":0.48,"y":0.011},{"s":"Full","x":0.52,"y":0.0075},{"s":"Full","x":0.56,"y":0.0055},{"s":"Full","x":0.6,"y":0.004},{"s":"Full","x":0.64,"y":0.003},{"s":"Full","x":0.68,"y":0.0027},{"s":"Full","x":0.72,"y":0.0022},{"s":"Full","x":0.76,"y":0.0019},{"s":"Full","x":0.7,"y":0.012},{"s":"Full","x":0.75,"y":0.009},{"s":"Full","x":0.8,"y":0.006},{"s":"Full","x":0.85,"y":0.004},{"s":"Full","x":0.9,"y":0.0029},{"s":"Full","x":0.95,"y":0.0022},{"s":"Full","x":1,"y":0.0016},{"s":"Full","x":0.44,"y":0.03},{"s":"Full","x":0.5,"y":0.017},{"s":"Full","x":0.55,"y":0.012},{"s":"Full","x":0.6,"y":0.008},{"s":"Full","x":0.65,"y":0.0055},{"s":"Full","x":0.61,"y":0.0025},{"s":"Full","x":0.66,"y":0.0018},{"s":"Full","x":0.7,"y":0.0014},{"s":"Full","x":0.6,"y":0.0015},{"s":"Full","x":0.57,"y":0.0013},{"s":"Full","x":0.72,"y":0.0011},{"s":"Full","x":0.52,"y":0.0035},{"s":"Full","x":0.55,"y":0.0024},{"s":"Full","x":0.49,"y":0.0065},{"s":"Full","x":0.51,"y":0.005},{"s":"Full","x":0.99,"y":0.0013},{"s":"Full","x":1.03,"y":0.0011},{"s":"Full","x":1.065,"y":0.00095},{"s":"Full","x":1.09,"y":0.00087},{"s":"Full","x":1.115,"y":0.0008},{"s":"Full","x":1.14,"y":0.00072},{"s":"Full","x":1.165,"y":0.00064},{"s":"Full","x":1.187,"y":0.00059},{"s":"Full","x":1.21,"y":0.00054},{"s":"Full","x":1.235,"y":0.00047},{"s":"Full","x":1.258,"y":0.0004},{"s":"Full","x":1.28,"y":0.00033},{"s":"Full","x":1.3,"y":0.00027},{"s":"Full","x":1.32,"y":0.00021},{"s":"Full","x":1.337,"y":0.00018},{"s":"Full","x":1.355,"y":0.00015},
{"s":"41Br","x":0.015,"y":2},{"s":"41Br","x":0.092,"y":2.6},{"s":"41Br","x":0.297,"y":0.56},{"s":"41Br","x":0.269,"y":0.1},{"s":"41Br","x":0.357,"y":0.0059},{"s":"41Br","x":0.541,"y":0.1},{"s":"41Br","x":0.703,"y":0.087},{"s":"41Br","x":0.775,"y":0.0215},{"s":"41Br","x":0.746,"y":0.012},{"s":"41Br","x":0.83,"y":0.0075},{"s":"41Br","x":0.657,"y":0.016},{"s":"41Br","x":0.551,"y":0.0037},{"s":"41Br","x":0.669,"y":0.0037},{"s":"41Br","x":0.604,"y":0.00093},{"s":"41Br","x":0.68,"y":0.001},{"s":"41Br","x":0.622,"y":0.0016},{"s":"41Br","x":0.908,"y":0.0024},{"s":"41Br","x":1.017,"y":0.0031},{"s":"41Br","x":1.447,"y":0.0066},{"s":"41Br","x":0.862,"y":0.00049},
{"s":"59Br","x":0.198,"y":0.255},{"s":"59Br","x":0.293,"y":0.054},{"s":"59Br","x":0.368,"y":0.069},{"s":"59Br","x":0.434,"y":0.022},{"s":"59Br","x":0.7,"y":0.016},{"s":"59Br","x":0.646,"y":0.0086},{"s":"59Br","x":0.357,"y":0.0043},{"s":"59Br","x":0.752,"y":0.0033},{"s":"59Br","x":0.869,"y":0.0041},{"s":"59Br","x":0.693,"y":0.0033},{"s":"59Br","x":0.611,"y":0.0086},{"s":"59Br","x":0.563,"y":0.0037},{"s":"59Br","x":0.908,"y":0.0019},{"s":"59Br","x":1.05,"y":0.0017},{"s":"59Br","x":1.25,"y":0.00088},{"s":"59Br","x":1.448,"y":0.00043},{"s":"59Br","x":0.859,"y":0.00032},{"s":"59Br","x":0.604,"y":0.00085},{"s":"59Br","x":0.675,"y":0.00088},
{"s":"93Br","x":0.093,"y":2.6},{"s":"93Br","x":0.114,"y":0.37},{"s":"93Br","x":0.174,"y":0.3},{"s":"93Br","x":0.198,"y":0.15},{"s":"93Br","x":0.262,"y":0.78},{"s":"93Br","x":0.262,"y":0.145},{"s":"93Br","x":0.24,"y":0.1},{"s":"93Br","x":0.28,"y":0.12},{"s":"93Br","x":0.223,"y":0.065},{"s":"93Br","x":0.287,"y":0.077},{"s":"93Br","x":0.35,"y":0.082},{"s":"93Br","x":0.315,"y":0.034},{"s":"93Br","x":0.364,"y":0.045},{"s":"93Br","x":0.393,"y":0.033},{"s":"93Br","x":0.421,"y":0.05},{"s":"93Br","x":0.364,"y":0.023},{"s":"93Br","x":0.368,"y":0.019},{"s":"93Br","x":0.403,"y":0.021},{"s":"93Br","x":0.457,"y":0.025},{"s":"93Br","x":0.488,"y":0.021},{"s":"93Br","x":0.457,"y":0.0136},{"s":"93Br","x":0.481,"y":0.0102},{"s":"93Br","x":0.534,"y":0.0136},{"s":"93Br","x":0.615,"y":0.0221},{"s":"93Br","x":0.633,"y":0.0136},{"s":"93Br","x":0.7,"y":0.015},{"s":"93Br","x":0.523,"y":0.0051},{"s":"93Br","x":0.558,"y":0.0051},{"s":"93Br","x":0.594,"y":0.0059},{"s":"93Br","x":0.622,"y":0.0057},{"s":"93Br","x":0.65,"y":0.0048},{"s":"93Br","x":0.682,"y":0.004},{"s":"93Br","x":0.763,"y":0.0059},{"s":"93Br","x":0.775,"y":0.0047},{"s":"93Br","x":0.827,"y":0.0041},{"s":"93Br","x":0.792,"y":0.0028},{"s":"93Br","x":0.756,"y":0.0023},{"s":"93Br","x":0.859,"y":0.0031},{"s":"93Br","x":0.911,"y":0.002},{"s":"93Br","x":0.94,"y":0.002},{"s":"93Br","x":0.629,"y":0.0018},{"s":"93Br","x":0.611,"y":0.0011},{"s":"93Br","x":0.682,"y":0.0013},{"s":"93Br","x":0.357,"y":0.0044},{"s":"93Br","x":1.017,"y":0.0014},{"s":"93Br","x":1.017,"y":0.001},{"s":"93Br","x":1.12,"y":0.0011},{"s":"93Br","x":1.229,"y":0.00073},{"s":"93Br","x":1.339,"y":0.00047},{"s":"93Br","x":1.448,"y":0.00023},{"s":"93Br","x":0.859,"y":0.00038},
{"s":"5UnBr","x":0.569,"y":0.39},{"s":"5UnBr","x":0.562,"y":0.353},{"s":"5UnBr","x":0.576,"y":0.415},{"s":"5UnBr","x":0.837,"y":0.43},
{"s":"14UnBr","x":0.145,"y":1.4},{"s":"14UnBr","x":0.209,"y":1.52},{"s":"14UnBr","x":0.417,"y":0.255},{"s":"14UnBr","x":0.629,"y":0.077},{"s":"14UnBr","x":0.569,"y":0.045},{"s":"14UnBr","x":0.59,"y":0.058},{"s":"14UnBr","x":0.837,"y":0.027},
{"s":"50UnBr","x":0.04,"y":3.4},{"s":"50UnBr","x":0.1,"y":1.5},{"s":"50UnBr","x":0.17,"y":0.8},{"s":"50UnBr","x":0.25,"y":0.43},{"s":"50UnBr","x":0.34,"y":0.25},{"s":"50UnBr","x":0.42,"y":0.17},{"s":"50UnBr","x":0.49,"y":0.13},{"s":"50UnBr","x":0.58,"y":0.09},{"s":"50UnBr","x":0.68,"y":0.05},{"s":"50UnBr","x":0.75,"y":0.032},{"s":"50UnBr","x":0.8,"y":0.02},{"s":"50UnBr","x":0.845,"y":0.0125},{"s":"50UnBr","x":0.55,"y":0.026},{"s":"50UnBr","x":0.59,"y":0.0175},
{"s":"98UnBr","x":0.022,"y":4.4},{"s":"98UnBr","x":0.015,"y":2.93},{"s":"98UnBr","x":0.033,"y":2.3},{"s":"98UnBr","x":0.057,"y":1.79},{"s":"98UnBr","x":0.085,"y":1.2},{"s":"98UnBr","x":0.114,"y":1.1},{"s":"98UnBr","x":0.142,"y":0.8},{"s":"98UnBr","x":0.17,"y":0.62},{"s":"98UnBr","x":0.198,"y":0.54},{"s":"98UnBr","x":0.227,"y":0.415},{"s":"98UnBr","x":0.255,"y":0.353},{"s":"98UnBr","x":0.283,"y":0.29},{"s":"98UnBr","x":0.311,"y":0.24},{"s":"98UnBr","x":0.34,"y":0.2},{"s":"98UnBr","x":0.368,"y":0.17},{"s":"98UnBr","x":0.396,"y":0.144},{"s":"98UnBr","x":0.424,"y":0.133},{"s":"98UnBr","x":0.453,"y":0.118},{"s":"98UnBr","x":0.481,"y":0.107},{"s":"98UnBr","x":0.04,"y":1.52},{"s":"98UnBr","x":0.075,"y":0.94},{"s":"98UnBr","x":0.11,"y":0.6},{"s":"98UnBr","x":0.145,"y":0.45},{"s":"98UnBr","x":0.181,"y":0.3},{"s":"98UnBr","x":0.216,"y":0.2},{"s":"98UnBr","x":0.251,"y":0.144},{"s":"98UnBr","x":0.287,"y":0.104},{"s":"98UnBr","x":0.322,"y":0.074},{"s":"98UnBr","x":0.357,"y":0.059},{"s":"98UnBr","x":0.393,"y":0.047},{"s":"98UnBr","x":0.428,"y":0.039},{"s":"98UnBr","x":0.463,"y":0.0307},{"s":"98UnBr","x":0.498,"y":0.026},{"s":"98UnBr","x":0.534,"y":0.02},{"s":"98UnBr","x":0.07,"y":1.25},{"s":"98UnBr","x":0.13,"y":0.65},{"s":"98UnBr","x":0.19,"y":0.38},{"s":"98UnBr","x":0.24,"y":0.25},{"s":"98UnBr","x":0.3,"y":0.16},{"s":"98UnBr","x":0.36,"y":0.1},{"s":"98UnBr","x":0.41,"y":0.07},{"s":"98UnBr","x":0.47,"y":0.05},{"s":"98UnBr","x":0.51,"y":0.04},{"s":"98UnBr","x":0.527,"y":0.11},{"s":"98UnBr","x":0.55,"y":0.09},{"s":"98UnBr","x":0.576,"y":0.077},{"s":"98UnBr","x":0.622,"y":0.063},{"s":"98UnBr","x":0.669,"y":0.045},{"s":"98UnBr","x":0.717,"y":0.034},{"s":"98UnBr","x":0.775,"y":0.0215},{"s":"98UnBr","x":0.813,"y":0.0125},{"s":"98UnBr","x":0.838,"y":0.006},{"s":"98UnBr","x":0.551,"y":0.0188},{"s":"98UnBr","x":0.569,"y":0.0098},
{"s":"98UnBr","x":0.05,"y":2},{"s":"98UnBr","x":0.1,"y":1.05},{"s":"98UnBr","x":0.125,"y":0.85},{"s":"98UnBr","x":0.16,"y":0.62},{"s":"98UnBr","x":0.175,"y":0.5},{"s":"98UnBr","x":0.205,"y":0.4},{"s":"98UnBr","x":0.21,"y":0.32},{"s":"98UnBr","x":0.235,"y":0.28},{"s":"98UnBr","x":0.245,"y":0.23},{"s":"98UnBr","x":0.27,"y":0.21},{"s":"98UnBr","x":0.28,"y":0.17},{"s":"98UnBr","x":0.295,"y":0.17},{"s":"98UnBr","x":0.3,"y":0.13},{"s":"98UnBr","x":0.325,"y":0.15},{"s":"98UnBr","x":0.33,"y":0.1},{"s":"98UnBr","x":0.345,"y":0.12},{"s":"98UnBr","x":0.36,"y":0.085},{"s":"98UnBr","x":0.38,"y":0.11},{"s":"98UnBr","x":0.385,"y":0.07},{"s":"98UnBr","x":0.41,"y":0.09},{"s":"98UnBr","x":0.415,"y":0.055},{"s":"98UnBr","x":0.44,"y":0.08},{"s":"98UnBr","x":0.445,"y":0.045},{"s":"98UnBr","x":0.465,"y":0.07},{"s":"98UnBr","x":0.47,"y":0.038},{"s":"98UnBr","x":0.49,"y":0.06},{"s":"98UnBr","x":0.5,"y":0.033},{"s":"98UnBr","x":0.51,"y":0.05},{"s":"98UnBr","x":0.52,"y":0.028},{"s":"98UnBr","x":0.535,"y":0.04},{"s":"98UnBr","x":0.54,"y":0.022},{"s":"98UnBr","x":0.555,"y":0.03},{"s":"98UnBr","x":0.56,"y":0.014},{"s":"98UnBr","x":0.02,"y":3.5},{"s":"98UnBr","x":0.045,"y":2.6},{"s":"98UnBr","x":0.06,"y":1.4},{"s":"98UnBr","x":0.09,"y":0.85},{"s":"98UnBr","x":0.12,"y":0.95},{"s":"98UnBr","x":0.13,"y":0.55},{"s":"98UnBr","x":0.16,"y":0.38},{"s":"98UnBr","x":0.19,"y":0.43}
],
"d":[
{"s":"Full","x":0.014,"y":4.1},{"s":"Full","x":-0.006,"y":2.6},{"s":"Full","x":0.012,"y":1.79},{"s":"Full","x":0.023,"y":1.2},{"s":"Full","x":0.041,"y":0.84},{"s":"Full","x":0.06,"y":0.94},{"s":"Full","x":0.07,"y":1.04},{"s":"Full","x":0.094,"y":0.94},{"s":"Full","x":0.129,"y":0.84},{"s":"Full","x":0.12,"y":1},{"s":"Full","x":0.153,"y":0.76},{"s":"Full","x":0.176,"y":0.72},{"s":"Full","x":0.135,"y":0.55},{"s":"Full","x":0.159,"y":0.49},{"s":"Full","x":0.194,"y":0.42},{"s":"Full","x":0.235,"y":0.315},{"s":"Full","x":0.27,"y":0.285},{"s":"Full","x":0.306,"y":0.255},{"s":"Full","x":0.341,"y":0.205},{"s":"Full","x":0.376,"y":0.184},{"s":"Full","x":0.411,"y":0.165},{"s":"Full","x":0.447,"y":0.148},{"s":"Full","x":0.482,"y":0.133},{"s":"Full","x":0.517,"y":0.12},{"s":"Full","x":0.553,"y":0.133},{"s":"Full","x":0.588,"y":0.148},{"s":"Full","x":0.623,"y":0.165},{"s":"Full","x":0.658,"y":0.184},{"s":"Full","x":0.694,"y":0.2},
{"s":"Full","x":0.059,"y":1},{"s":"Full","x":0.118,"y":1},{"s":"Full","x":0.176,"y":1},{"s":"Full","x":0.235,"y":0.95},{"s":"Full","x":0.294,"y":0.95},{"s":"Full","x":0.352,"y":0.95},{"s":"Full","x":0.411,"y":0.95},{"s":"Full","x":0.47,"y":0.95},{"s":"Full","x":0.529,"y":0.95},{"s":"Full","x":0.588,"y":0.95},{"s":"Full","x":0.694,"y":0.94},{"s":"Full","x":0.705,"y":0.8},
{"s":"Full","x":0.153,"y":0.68},{"s":"Full","x":0.211,"y":0.61},{"s":"Full","x":0.27,"y":0.55},{"s":"Full","x":0.329,"y":0.49},{"s":"Full","x":0.388,"y":0.44},{"s":"Full","x":0.447,"y":0.39},{"s":"Full","x":0.506,"y":0.353},{"s":"Full","x":0.564,"y":0.315},{"s":"Full","x":0.623,"y":0.285},{"s":"Full","x":0.682,"y":0.285},{"s":"Full","x":0.741,"y":0.44},{"s":"Full","x":0.776,"y":0.65},{"s":"Full","x":0.811,"y":0.76},{"s":"Full","x":0.847,"y":0.84},{"s":"Full","x":0.882,"y":0.68},{"s":"Full","x":0.917,"y":0.49},{"s":"Full","x":0.952,"y":0.353},{"s":"Full","x":0.976,"y":0.285},{"s":"Full","x":0.3,"y":0.8},{"s":"Full","x":0.4,"y":0.7},{"s":"Full","x":0.5,"y":0.62},{"s":"Full","x":0.6,"y":0.55},{"s":"Full","x":0.7,"y":0.48},{"s":"Full","x":0.8,"y":0.4},
{"s":"Full","x":0.882,"y":0.23},{"s":"Full","x":0.917,"y":0.215},{"s":"Full","x":0.952,"y":0.215},{"s":"Full","x":0.988,"y":0.23},{"s":"Full","x":1.023,"y":0.23},{"s":"Full","x":1.058,"y":0.23},{"s":"Full","x":1.094,"y":0.23},{"s":"Full","x":1.129,"y":0.215},{"s":"Full","x":1.164,"y":0.205},{"s":"Full","x":1.2,"y":0.2},{"s":"Full","x":1.235,"y":0.205},{"s":"Full","x":1.27,"y":0.215},{"s":"Full","x":1.288,"y":0.165},{"s":"Full","x":1.305,"y":0.14},{"s":"Full","x":1.329,"y":0.127},{"s":"Full","x":1.352,"y":0.122},{"s":"Full","x":1.376,"y":0.107},{"s":"Full","x":1.4,"y":0.097},{"s":"Full","x":1.417,"y":0.083},{"s":"Full","x":1.429,"y":0.062},{"s":"Full","x":1.452,"y":0.04},
{"s":"Full","x":0.358,"y":0.12},{"s":"Full","x":0.244,"y":0.205},{"s":"Full","x":0.535,"y":0.062},{"s":"Full","x":0.6,"y":0.062},{"s":"Full","x":0.676,"y":0.04},{"s":"Full","x":0.752,"y":0.12},{"s":"Full","x":0.77,"y":0.073},{"s":"Full","x":0.752,"y":0.056},{"s":"Full","x":0.864,"y":0.05},{"s":"Full","x":0.911,"y":0.056},{"s":"Full","x":1.019,"y":0.048},{"s":"Full","x":0.999,"y":0.086},{"s":"Full","x":0.982,"y":0.107},{"s":"Full","x":0.964,"y":0.148},{"s":"Full","x":0.835,"y":0.12},{"s":"Full","x":0.847,"y":0.086},{"s":"Full","x":0.67,"y":0.077},{"s":"Full","x":0.635,"y":0.096},{"s":"Full","x":0.576,"y":0.107},{"s":"Full","x":0.7,"y":0.12},{"s":"Full","x":0.54,"y":0.16},{"s":"Full","x":0.62,"y":0.13},
{"s":"Full","x":0.1,"y":0.8},{"s":"Full","x":0.16,"y":0.85},{"s":"Full","x":0.22,"y":0.75},{"s":"Full","x":0.28,"y":0.7},{"s":"Full","x":0.34,"y":0.65},{"s":"Full","x":0.4,"y":0.6},{"s":"Full","x":0.46,"y":0.55},{"s":"Full","x":0.52,"y":0.5},{"s":"Full","x":0.58,"y":0.45},{"s":"Full","x":0.64,"y":0.42},{"s":"Full","x":0.7,"y":0.4},{"s":"Full","x":0.2,"y":0.5},{"s":"Full","x":0.26,"y":0.42},{"s":"Full","x":0.32,"y":0.37},{"s":"Full","x":0.38,"y":0.31},{"s":"Full","x":0.44,"y":0.27},{"s":"Full","x":0.5,"y":0.24},{"s":"Full","x":0.56,"y":0.22},{"s":"Full","x":0.62,"y":0.21},{"s":"Full","x":0.68,"y":0.25},{"s":"Full","x":0.74,"y":0.28},{"s":"Full","x":0.8,"y":0.33},{"s":"Full","x":0.86,"y":0.36},{"s":"Full","x":0.9,"y":0.42},{"s":"Full","x":0.94,"y":0.3},{"s":"Full","x":0.26,"y":0.6},{"s":"Full","x":0.32,"y":0.6},{"s":"Full","x":0.38,"y":0.55},{"s":"Full","x":0.44,"y":0.5},{"s":"Full","x":0.5,"y":0.44},{"s":"Full","x":0.56,"y":0.38},{"s":"Full","x":0.62,"y":0.36},{"s":"Full","x":0.68,"y":0.33},{"s":"Full","x":0.74,"y":0.36},{"s":"Full","x":0.8,"y":0.55},{"s":"Full","x":0.84,"y":0.6},{"s":"Full","x":0.87,"y":0.5},{"s":"Full","x":0.9,"y":0.22},{"s":"Full","x":0.935,"y":0.21},{"s":"Full","x":0.97,"y":0.22},{"s":"Full","x":1.005,"y":0.23},{"s":"Full","x":1.04,"y":0.23},{"s":"Full","x":1.076,"y":0.23},{"s":"Full","x":1.11,"y":0.225},{"s":"Full","x":1.147,"y":0.21},{"s":"Full","x":1.18,"y":0.2},{"s":"Full","x":1.217,"y":0.2},{"s":"Full","x":1.252,"y":0.21},
{"s":"41Br","x":0.358,"y":0.0058},{"s":"41Br","x":0.58,"y":0.0067},{"s":"41Br","x":0.558,"y":0.0048},{"s":"41Br","x":0.567,"y":0.0051},{"s":"41Br","x":0.553,"y":0.0041},{"s":"41Br","x":0.682,"y":0.0048},{"s":"41Br","x":0.67,"y":0.0043},{"s":"41Br","x":0.676,"y":0.0037},{"s":"41Br","x":0.909,"y":0.0044},{"s":"41Br","x":1.017,"y":0.0051},{"s":"41Br","x":0.625,"y":0.0017},{"s":"41Br","x":0.608,"y":0.0011},{"s":"41Br","x":0.864,"y":0.00084},{"s":"41Br","x":0.831,"y":0.0127},{"s":"41Br","x":0.7,"y":0.0115},{"s":"41Br","x":0.661,"y":0.0175},{"s":"41Br","x":0.486,"y":0.024},{"s":"41Br","x":0.629,"y":0.033},{"s":"41Br","x":0.77,"y":0.045},{"s":"41Br","x":0.747,"y":0.063},{"s":"41Br","x":0.635,"y":0.06},{"s":"41Br","x":0.523,"y":0.056},{"s":"41Br","x":0.535,"y":0.113},{"s":"41Br","x":1.45,"y":0.033},{"s":"41Br","x":0.353,"y":0.085},{"s":"41Br","x":0.705,"y":0.175},{"s":"41Br","x":0.306,"y":0.58},{"s":"41Br","x":0.241,"y":0.37},{"s":"41Br","x":0.023,"y":1.7},
{"s":"59Br","x":0.198,"y":0.315},{"s":"59Br","x":0.241,"y":0.2},{"s":"59Br","x":0.291,"y":0.165},{"s":"59Br","x":0.358,"y":0.09},{"s":"59Br","x":0.435,"y":0.165},{"s":"59Br","x":0.553,"y":0.155},{"s":"59Br","x":0.594,"y":0.175},{"s":"59Br","x":0.676,"y":0.107},{"s":"59Br","x":0.752,"y":0.155},{"s":"59Br","x":0.77,"y":0.184},{"s":"59Br","x":0.852,"y":0.184},{"s":"59Br","x":0.858,"y":0.255},{"s":"59Br","x":0.864,"y":0.077},{"s":"59Br","x":1.017,"y":0.285},{"s":"59Br","x":1.05,"y":0.184},{"s":"59Br","x":1.25,"y":0.175},{"s":"59Br","x":1.45,"y":0.175},{"s":"59Br","x":0.394,"y":0.61},{"s":"59Br","x":0.353,"y":0.55},{"s":"59Br","x":0.635,"y":0.65},{"s":"59Br","x":0.676,"y":0.44},{"s":"59Br","x":0.705,"y":0.68},{"s":"59Br","x":0.2,"y":0.72},{"s":"59Br","x":0.259,"y":0.55},{"s":"59Br","x":0.02,"y":1.6},
{"s":"93Br","x":0.261,"y":5.1},{"s":"93Br","x":0.115,"y":0.44},{"s":"93Br","x":0.194,"y":0.44},{"s":"93Br","x":0.223,"y":0.23},{"s":"93Br","x":0.118,"y":0.94},{"s":"93Br","x":0.182,"y":0.84},{"s":"93Br","x":0.253,"y":0.68},{"s":"93Br","x":0.282,"y":0.49},{"s":"93Br","x":0.353,"y":0.84},{"s":"93Br","x":0.364,"y":0.23},{"s":"93Br","x":0.311,"y":0.255},{"s":"93Br","x":0.406,"y":0.255},{"s":"93Br","x":0.376,"y":0.39},{"s":"93Br","x":0.4,"y":0.353},{"s":"93Br","x":0.453,"y":0.205},{"s":"93Br","x":0.435,"y":0.76},{"s":"93Br","x":0.506,"y":0.84},{"s":"93Br","x":0.517,"y":0.61},{"s":"93Br","x":0.482,"y":0.353},{"s":"93Br","x":0.47,"y":0.255},{"s":"93Br","x":0.523,"y":0.205},{"s":"93Br","x":0.553,"y":0.23},{"s":"93Br","x":0.582,"y":0.23},{"s":"93Br","x":0.623,"y":0.84},{"s":"93Br","x":0.664,"y":0.76},{"s":"93Br","x":0.7,"y":0.84},{"s":"93Br","x":0.705,"y":0.55},{"s":"93Br","x":0.629,"y":0.415},{"s":"93Br","x":0.623,"y":0.184},{"s":"93Br","x":0.676,"y":0.285},{"s":"93Br","x":0.694,"y":0.285},{"s":"93Br","x":0.67,"y":0.148},{"s":"93Br","x":0.605,"y":0.077},{"s":"93Br","x":0.358,"y":0.09},{"s":"93Br","x":0.764,"y":0.61},{"s":"93Br","x":0.829,"y":0.61},{"s":"93Br","x":0.782,"y":0.39},{"s":"93Br","x":0.8,"y":0.315},{"s":"93Br","x":0.77,"y":0.255},{"s":"93Br","x":0.747,"y":0.205},{"s":"93Br","x":0.911,"y":0.49},{"s":"93Br","x":0.941,"y":0.37},{"s":"93Br","x":0.911,"y":0.285},{"s":"93Br","x":0.864,"y":0.125},{"s":"93Br","x":1.02,"y":0.315},{"s":"93Br","x":1.12,"y":0.255},{"s":"93Br","x":1.231,"y":0.27},{"s":"93Br","x":1.34,"y":0.27},{"s":"93Br","x":1.45,"y":0.255},
{"s":"5UnBr","x":0.57,"y":0.39},{"s":"5UnBr","x":0.564,"y":0.37},{"s":"5UnBr","x":0.576,"y":0.415},{"s":"5UnBr","x":0.838,"y":0.44},
{"s":"14UnBr","x":0.641,"y":1.5},{"s":"14UnBr","x":0.841,"y":1.45},{"s":"14UnBr","x":0.141,"y":1.25},{"s":"14UnBr","x":0.288,"y":1.1},{"s":"14UnBr","x":0.423,"y":1.1},
{"s":"50UnBr","x":0.06,"y":3.7},{"s":"50UnBr","x":0.12,"y":3.1},{"s":"50UnBr","x":0.2,"y":3},{"s":"50UnBr","x":0.3,"y":3},{"s":"50UnBr","x":0.4,"y":3},{"s":"50UnBr","x":0.5,"y":3},{"s":"50UnBr","x":0.6,"y":3},{"s":"50UnBr","x":0.7,"y":3},{"s":"50UnBr","x":0.78,"y":2.9},{"s":"50UnBr","x":0.842,"y":2.7},{"s":"50UnBr","x":0.2,"y":1.8},{"s":"50UnBr","x":0.35,"y":1.7},{"s":"50UnBr","x":0.5,"y":1.7},{"s":"50UnBr","x":0.58,"y":1.5},{"s":"50UnBr","x":0.59,"y":1.25},
{"s":"98UnBr","x":0.026,"y":4.2},{"s":"98UnBr","x":0.047,"y":3.6},{"s":"98UnBr","x":0.082,"y":3.44},{"s":"98UnBr","x":0.12,"y":3.3},{"s":"98UnBr","x":0.153,"y":3.3},{"s":"98UnBr","x":0.188,"y":3.2},{"s":"98UnBr","x":0.223,"y":3.2},{"s":"98UnBr","x":0.259,"y":3.2},{"s":"98UnBr","x":0.294,"y":3.2},{"s":"98UnBr","x":0.329,"y":3.2},{"s":"98UnBr","x":0.364,"y":3.2},{"s":"98UnBr","x":0.4,"y":3.2},{"s":"98UnBr","x":0.435,"y":3.2},{"s":"98UnBr","x":0.47,"y":3.2},{"s":"98UnBr","x":0.506,"y":3.2},{"s":"98UnBr","x":0.541,"y":3.2},{"s":"98UnBr","x":0.576,"y":3.3},{"s":"98UnBr","x":0.611,"y":3.3},{"s":"98UnBr","x":0.647,"y":3.3},{"s":"98UnBr","x":0.682,"y":3.3},{"s":"98UnBr","x":0.717,"y":3.3},{"s":"98UnBr","x":0.752,"y":3.3},{"s":"98UnBr","x":0.788,"y":3.3},{"s":"98UnBr","x":0.817,"y":3},{"s":"98UnBr","x":0.841,"y":1.6},
{"s":"98UnBr","x":0.012,"y":3.05},{"s":"98UnBr","x":0.02,"y":2.4},{"s":"98UnBr","x":0.045,"y":2.8},{"s":"98UnBr","x":0.07,"y":2.4},{"s":"98UnBr","x":0.095,"y":2},{"s":"98UnBr","x":0.125,"y":1.6},{"s":"98UnBr","x":0.155,"y":2},{"s":"98UnBr","x":0.185,"y":1.6},{"s":"98UnBr","x":0.215,"y":2},{"s":"98UnBr","x":0.245,"y":1.6},{"s":"98UnBr","x":0.275,"y":2},{"s":"98UnBr","x":0.305,"y":1.6},{"s":"98UnBr","x":0.335,"y":2},{"s":"98UnBr","x":0.365,"y":1.6},{"s":"98UnBr","x":0.395,"y":2},{"s":"98UnBr","x":0.425,"y":1.6},{"s":"98UnBr","x":0.455,"y":2},{"s":"98UnBr","x":0.485,"y":1.6},{"s":"98UnBr","x":0.515,"y":1.9},{"s":"98UnBr","x":0.545,"y":1.5},{"s":"98UnBr","x":0.1,"y":1.5},{"s":"98UnBr","x":0.16,"y":1.35},{"s":"98UnBr","x":0.22,"y":1.35},{"s":"98UnBr","x":0.28,"y":1.35},{"s":"98UnBr","x":0.34,"y":1.35},{"s":"98UnBr","x":0.4,"y":1.35},{"s":"98UnBr","x":0.46,"y":1.35},{"s":"98UnBr","x":0.52,"y":1.3},{"s":"98UnBr","x":0.56,"y":1.25},{"s":"98UnBr","x":0.565,"y":0.72},
{"s":"98UnBr","x":0.277,"y":3.2},{"s":"98UnBr","x":0.312,"y":3.2},{"s":"98UnBr","x":0.347,"y":3.2},{"s":"98UnBr","x":0.382,"y":3.2},{"s":"98UnBr","x":0.417,"y":3.2},{"s":"98UnBr","x":0.452,"y":3.2},{"s":"98UnBr","x":0.488,"y":3.2},{"s":"98UnBr","x":0.523,"y":3.2},{"s":"98UnBr","x":0.558,"y":3.25},{"s":"98UnBr","x":0.594,"y":3.3},{"s":"98UnBr","x":0.629,"y":3.3},{"s":"98UnBr","x":0.664,"y":3.3},{"s":"98UnBr","x":0.7,"y":3.3},{"s":"98UnBr","x":0.735,"y":3.3},{"s":"98UnBr","x":0.77,"y":3.3},{"s":"98UnBr","x":0.06,"y":2.3},{"s":"98UnBr","x":0.1,"y":2.3},{"s":"98UnBr","x":0.14,"y":2.3},{"s":"98UnBr","x":0.18,"y":2.3},{"s":"98UnBr","x":0.22,"y":2.3},{"s":"98UnBr","x":0.26,"y":2.3},{"s":"98UnBr","x":0.3,"y":2.3},{"s":"98UnBr","x":0.34,"y":2.3},{"s":"98UnBr","x":0.38,"y":2.3},{"s":"98UnBr","x":0.42,"y":2.3},{"s":"98UnBr","x":0.46,"y":2.3},{"s":"98UnBr","x":0.5,"y":2.2},{"s":"98UnBr","x":0.08,"y":1.8},{"s":"98UnBr","x":0.12,"y":1.8},{"s":"98UnBr","x":0.16,"y":1.8},{"s":"98UnBr","x":0.2,"y":1.8},{"s":"98UnBr","x":0.24,"y":1.8},{"s":"98UnBr","x":0.28,"y":1.8},{"s":"98UnBr","x":0.32,"y":1.8},{"s":"98UnBr","x":0.36,"y":1.8},{"s":"98UnBr","x":0.4,"y":1.8},{"s":"98UnBr","x":0.44,"y":1.8},{"s":"98UnBr","x":0.48,"y":1.8},{"s":"98UnBr","x":0.52,"y":1.7},{"s":"98UnBr","x":0.13,"y":1.45},{"s":"98UnBr","x":0.19,"y":1.45},{"s":"98UnBr","x":0.25,"y":1.45},{"s":"98UnBr","x":0.31,"y":1.45},{"s":"98UnBr","x":0.37,"y":1.45},{"s":"98UnBr","x":0.43,"y":1.45},{"s":"98UnBr","x":0.49,"y":1.45},{"s":"98UnBr","x":0.55,"y":1.4}
]
},
"config":{"font":"Liberation Sans","view":{"stroke":null},"axis":{"grid":false,"domainColor":"#333","domainWidth":1.5,"tickColor":"#333","tickWidth":1,"labelColor":"#000","titleColor":"#000","labelFont":"Liberation Sans","titleFont":"Liberation Sans","titleFontWeight":"normal","labelFontSize":28,"titleFontSize":41.5,"tickSize":-6,"labelPadding":8,"labelFlush":false,"labelOverlap":false},"point":{"filled":false,"strokeWidth":2.5,"size":190,"opacity":1},"text":{"font":"Liberation Sans","color":"#000"}},
"concat":[
{"width":566,"height":566,"data":{"name":"a"},"layer":[{"mark":{"type":"point","clip":false},"encoding":{"x":{"field":"x","type":"quantitative","scale":{"domain":[-0.25,1.75],"nice":false,"zero":false},"axis":{"values":[0,0.5,1,1.5],"labels":false,"title":null}},"y":{"field":"y","type":"quantitative","scale":{"domain":[-0.1,1],"nice":false,"zero":false},"axis":{"values":[0,1],"labelExpr":"datum.value","labelPadding":14,"title":"Norm. bAP amp","titleY":251,"titleX":-34}},"shape":{"field":"s","scale":{"domain":["Full","41Br","59Br","93Br","5UnBr","14UnBr","50UnBr","98UnBr"],"range":["circle","circle","M-0.95,-0.95L0.95,0.95M-0.95,0.95L0.95,-0.95","M-1.3,0L1.3,0M0,-1.3L0,1.3","circle","circle","M-0.95,-0.95L0.95,0.95M-0.95,0.95L0.95,-0.95","M-1.3,0L1.3,0M0,-1.3L0,1.3"]},"legend":{"title":null,"orient":"none","legendX":359,"legendY":29,"labelFontSize":36,"labelFont":"Liberation Sans","labelColor":"#000","symbolSize":190,"symbolStrokeWidth":2.5,"rowPadding":3,"labelOffset":27,"clipHeight":40}},"stroke":{"field":"s","scale":{"domain":["Full","41Br","59Br","93Br","5UnBr","14UnBr","50UnBr","98UnBr"],"range":["#00b400","#ff8000","#ff00ff","#ff0000","#00ffff","#4040c0","#8080ff","#0040ff"]}},"fill":{"field":"s","scale":{"domain":["Full","41Br","59Br","93Br","5UnBr","14UnBr","50UnBr","98UnBr"],"range":["transparent","transparent","transparent","transparent","#00ffff","transparent","transparent","transparent"]}}}},{"data":{"values":[{"l":"A"}]},"mark":{"type":"text","fontSize":62,"align":"center","baseline":"middle"},"encoding":{"text":{"field":"l"},"x":{"datum":-0.486},"y":{"datum":1.083}}},{"data":{"values":[{"l":"No Dendritic gNa"}]},"mark":{"type":"text","fontSize":51.5,"align":"center","baseline":"middle"},"encoding":{"text":{"field":"l"},"x":{"datum":0.567},"y":{"datum":1.061}}}]},
{"width":566,"height":566,"data":{"name":"b"},"layer":[{"mark":{"type":"point","clip":false},"encoding":{"x":{"field":"x","type":"quantitative","scale":{"domain":[-0.25,1.75],"nice":false,"zero":false},"axis":{"values":[0,0.5,1,1.5],"labels":false,"title":null}},"y":{"field":"y","type":"quantitative","scale":{"domain":[-0.1,1],"nice":false,"zero":false},"axis":{"values":[0,1],"labels":false,"title":null}},"shape":{"field":"s","legend":null,"scale":{"domain":["Full","41Br","59Br","93Br","5UnBr","14UnBr","50UnBr","98UnBr"],"range":["circle","circle","M-0.95,-0.95L0.95,0.95M-0.95,0.95L0.95,-0.95","M-1.3,0L1.3,0M0,-1.3L0,1.3","circle","circle","M-0.95,-0.95L0.95,0.95M-0.95,0.95L0.95,-0.95","M-1.3,0L1.3,0M0,-1.3L0,1.3"]}},"stroke":{"field":"s","legend":null,"scale":{"domain":["Full","41Br","59Br","93Br","5UnBr","14UnBr","50UnBr","98UnBr"],"range":["#00b400","#ff8000","#ff00ff","#ff0000","#00ffff","#4040c0","#8080ff","#0040ff"]}},"fill":{"field":"s","legend":null,"scale":{"domain":["Full","41Br","59Br","93Br","5UnBr","14UnBr","50UnBr","98UnBr"],"range":["transparent","transparent","transparent","transparent","#00ffff","transparent","transparent","transparent"]}}}},{"data":{"values":[{"l":"B"}]},"mark":{"type":"text","fontSize":62,"align":"center","baseline":"middle"},"encoding":{"text":{"field":"l"},"x":{"datum":-0.338},"y":{"datum":1.072}}},{"data":{"values":[{"l":"High Dendritic gNa"}]},"mark":{"type":"text","fontSize":51.5,"align":"center","baseline":"middle"},"encoding":{"text":{"field":"l"},"x":{"datum":0.679},"y":{"datum":1.058}}}]},
{"width":566,"height":566,"data":{"name":"c"},"layer":[{"mark":{"type":"point","clip":false},"encoding":{"x":{"field":"x","type":"quantitative","scale":{"domain":[-0.25,1.75],"nice":false,"zero":false},"axis":{"values":[0,0.5,1,1.5],"labelExpr":"datum.value","labelPadding":12,"title":"Electrotonic position (L)","titleBaseline":"alphabetic","titleY":69,"titleX":264}},"y":{"field":"y","type":"quantitative","scale":{"type":"log","domain":[1e-6,100],"nice":false},"axis":{"values":[1e-6,1e-2,100],"labelPadding":14,"title":"Axial current (nA)","titleX":-52,"titleY":278,"labelExpr":"datum.value==100?'10²':datum.value<1e-3?'10⁻⁶':'10⁻²'"}},"shape":{"field":"s","legend":null,"scale":{"domain":["Full","41Br","59Br","93Br","5UnBr","14UnBr","50UnBr","98UnBr"],"range":["circle","circle","M-0.95,-0.95L0.95,0.95M-0.95,0.95L0.95,-0.95","M-1.3,0L1.3,0M0,-1.3L0,1.3","circle","circle","M-0.95,-0.95L0.95,0.95M-0.95,0.95L0.95,-0.95","M-1.3,0L1.3,0M0,-1.3L0,1.3"]}},"stroke":{"field":"s","legend":null,"scale":{"domain":["Full","41Br","59Br","93Br","5UnBr","14UnBr","50UnBr","98UnBr"],"range":["#00b400","#ff8000","#ff00ff","#ff0000","#00ffff","#4040c0","#8080ff","#0040ff"]}},"fill":{"field":"s","legend":null,"scale":{"domain":["Full","41Br","59Br","93Br","5UnBr","14UnBr","50UnBr","98UnBr"],"range":["transparent","transparent","transparent","transparent","#00ffff","transparent","transparent","transparent"]}}}},{"data":{"values":[{"l":"C"}]},"mark":{"type":"text","fontSize":62,"align":"center","baseline":"middle"},"encoding":{"text":{"field":"l"},"x":{"datum":-0.508},"y":{"datum":33}}}]},
{"width":566,"height":566,"data":{"name":"d"},"layer":[{"mark":{"type":"point","clip":false},"encoding":{"x":{"field":"x","type":"quantitative","scale":{"domain":[-0.25,1.75],"nice":false,"zero":false},"axis":{"values":[0,0.5,1,1.5],"labelExpr":"datum.value","labelPadding":12,"title":"Electrotonic position (L)","titleBaseline":"alphabetic","titleY":69,"titleX":294}},"y":{"field":"y","type":"quantitative","scale":{"type":"log","domain":[1e-6,100],"nice":false},"axis":{"values":[1e-6,1e-2,100],"labels":false,"title":null}},"shape":{"field":"s","legend":null,"scale":{"domain":["Full","41Br","59Br","93Br","5UnBr","14UnBr","50UnBr","98UnBr"],"range":["circle","circle","M-0.95,-0.95L0.95,0.95M-0.95,0.95L0.95,-0.95","M-1.3,0L1.3,0M0,-1.3L0,1.3","circle","circle","M-0.95,-0.95L0.95,0.95M-0.95,0.95L0.95,-0.95","M-1.3,0L1.3,0M0,-1.3L0,1.3"]}},"stroke":{"field":"s","legend":null,"scale":{"domain":["Full","41Br","59Br","93Br","5UnBr","14UnBr","50UnBr","98UnBr"],"range":["#00b400","#ff8000","#ff00ff","#ff0000","#00ffff","#4040c0","#8080ff","#0040ff"]}},"fill":{"field":"s","legend":null,"scale":{"domain":["Full","41Br","59Br","93Br","5UnBr","14UnBr","50UnBr","98UnBr"],"range":["transparent","transparent","transparent","transparent","#00ffff","transparent","transparent","transparent"]}}}},{"data":{"values":[{"l":"D"}]},"mark":{"type":"text","fontSize":62,"align":"center","baseline":"middle"},"encoding":{"text":{"field":"l"},"x":{"datum":-0.359},"y":{"datum":29}}}]}
]}
